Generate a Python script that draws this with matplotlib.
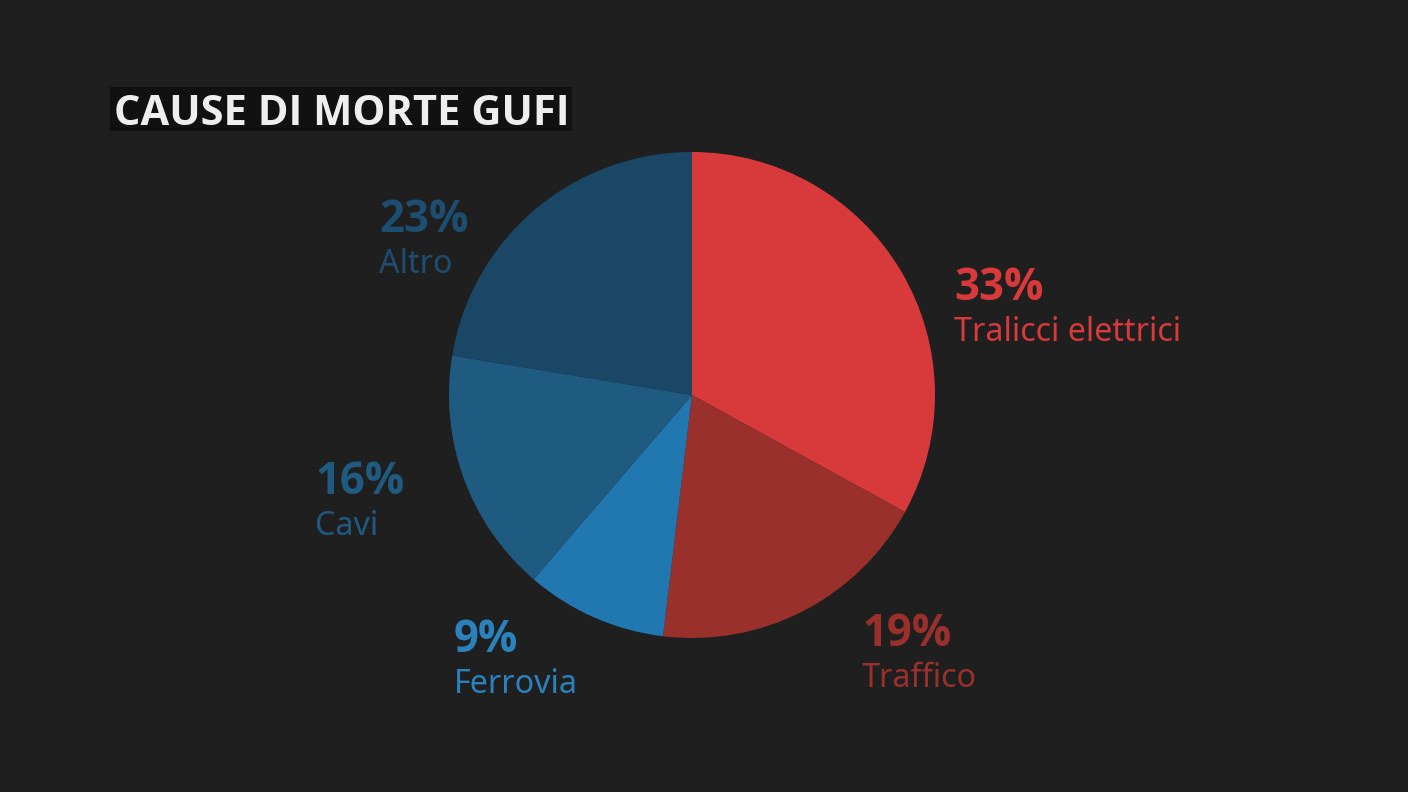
import matplotlib.pyplot as plt
from matplotlib.patches import Rectangle

W, H = 1408, 792

# data
categories = ['Tralicci elettrici', 'Traffico', 'Ferrovia', 'Cavi', 'Altro']
pct_labels = ['33%', '19%', '9%', '16%', '23%']
shares = [33.0, 18.9, 9.4, 16.3, 22.4]  # wedge sizes as drawn
colors = ['#d83a3b', '#9a302c', '#2178b0', '#1f5a80', '#1b4766']
text_colors = ['#d83a3b', '#9a302c', '#2a82bd', '#1f5a80', '#1d4d70']
# baseline of the percentage, left edge (pixels)
label_pos = [(954, 300), (862, 646), (454, 652), (315, 494), (379, 232)]

fig = plt.figure(figsize=(W / 100, H / 100), dpi=100)
fig.patch.set_facecolor('#1f1f1f')

# pie placed in pixel space
cx, cy, r = 692, 395, 243
ax = fig.add_axes([(cx - r) / W, (H - cy - r) / H, 2 * r / W, 2 * r / H])
ax.pie(shares, colors=colors, startangle=90, counterclock=False,
       wedgeprops=dict(linewidth=0))
ax.set_xlim(-1, 1)
ax.set_ylim(-1, 1)
ax.set_aspect('equal')
ax.axis('off')

bold_font = 'Open Sans'
font = 'Noto Sans'

# title box + title
fig.patches.append(Rectangle((110 / W, 1 - 131 / H), 462 / W, 44 / H,
                             transform=fig.transFigure, facecolor='#111111',
                             edgecolor='none', zorder=0))
fig.text(114 / W, 1 - 125 / H, 'CAUSE DI MORTE GUFI', color='#eeeeee',
         fontsize=30, fontweight='bold', family=bold_font, va='baseline', ha='left')

for cat, pct, tc, (px, py) in zip(categories, pct_labels, text_colors, label_pos):
    fig.text(px / W, 1 - py / H, pct, color=tc, fontsize=31.5,
             fontweight='bold', family=bold_font, va='baseline', ha='left')
    fig.text(px / W, 1 - (py + 41) / H, cat, color=tc, fontsize=23.2,
             family=font, va='baseline', ha='left')

fig.savefig('out.png', dpi=100, facecolor=fig.get_facecolor())
